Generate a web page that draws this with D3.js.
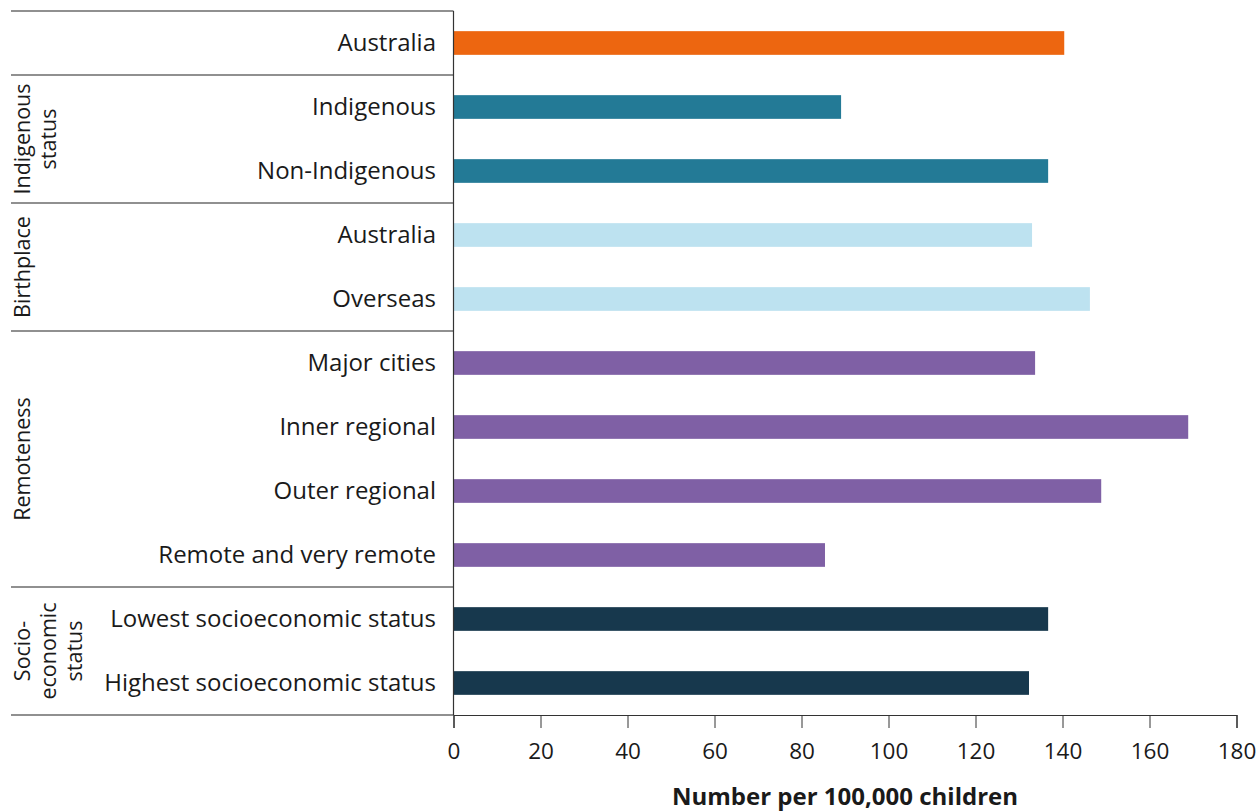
<!DOCTYPE html>
<html><head><meta charset="utf-8">
<script src="https://cdn.jsdelivr.net/npm/d3@7"></script>
<style>body{margin:0;background:#fff;} text{font-family:"Open Sans",sans-serif;}</style>
</head><body><svg id="c" width="1258" height="811"></svg>
<script>
const categories = ["Australia","Indigenous","Non-Indigenous","Australia ","Overseas","Major cities","Inner regional","Outer regional","Remote and very remote","Lowest socioeconomic status","Highest socioeconomic status"];
const values = [140.4, 89.1, 136.7, 133.0, 146.3, 133.7, 168.9, 148.9, 85.4, 136.7, 132.3];
const groupOf = ["total","indig","indig","birth","birth","remote","remote","remote","remote","ses","ses"];
const groups = [
  {key:"total", label:[]},
  {key:"indig", label:["Indigenous","status"]},
  {key:"birth", label:["Birthplace"]},
  {key:"remote", label:["Remoteness"]},
  {key:"ses", label:["Socio-","economic","status"]}
];
const colors = {total:"#ED6610", indig:"#237A96", birth:"#BDE2F0", remote:"#7F60A5", ses:"#17384D"};
const xTicks = [0,20,40,60,80,100,120,140,160,180];

const svg = d3.select("#c");
const x = d3.scaleLinear().domain([0,180]).range([453.5,1236.5]);
const y = d3.scaleBand().domain(categories.map((c,i)=>i)).range([11,715]).paddingInner(0.63).paddingOuter(0.315);

svg.selectAll("rect.bar").data(values).join("rect")
  .attr("class","bar")
  .attr("x", x(0))
  .attr("y",(d,i)=>y(i))
  .attr("width",d=>x(d)-x(0))
  .attr("height",y.bandwidth())
  .attr("fill",(d,i)=>colors[groupOf[i]]);

svg.selectAll("text.cat").data(categories).join("text")
  .attr("class","cat")
  .attr("x",436)
  .attr("y",(d,i)=>y(i)+y.bandwidth()/2)
  .attr("dy","0.35em")
  .attr("text-anchor","end")
  .attr("font-size",24)
  .attr("fill","#1a1a1a")
  .text(d=>d.trim());

let idx = 0;
const bounds = [];
groups.forEach(g=>{
  const n = groupOf.filter(k=>k===g.key).length;
  const top = y(idx) - (y.step()-y.bandwidth())/2;
  const bot = y(idx+n-1) + y.bandwidth() + (y.step()-y.bandwidth())/2;
  bounds.push({g, top, bot});
  idx += n;
});
const lineYs = [bounds[0].top, ...bounds.map(b=>b.bot)];
svg.selectAll("line.sep").data(lineYs).join("line")
  .attr("class","sep")
  .attr("x1",11).attr("x2",453.5)
  .attr("y1",d=>d).attr("y2",d=>d)
  .attr("stroke","#222").attr("stroke-width",1.2);

bounds.forEach(b=>{
  const cy = (b.top+b.bot)/2;
  b.g.label.forEach((t,j)=>{
    const cx = 22 + j*26;
    svg.append("text")
      .attr("transform",`translate(${cx},${cy}) rotate(-90)`)
      .attr("text-anchor","middle")
      .attr("dy","0.35em")
      .attr("font-size",21.5)
      .attr("fill","#1a1a1a")
      .text(t);
  });
});

const ax = svg.append("g").attr("transform","translate(0,715)")
  .call(d3.axisBottom(x).tickValues(xTicks).tickSize(13).tickPadding(15).tickFormat(d3.format("d")));
ax.select(".domain").attr("stroke","#333").attr("stroke-width",1.2);
ax.selectAll(".tick line").attr("stroke","#333");
ax.selectAll(".tick text").attr("font-size",22.5).attr("fill","#1a1a1a").attr("font-family","'Open Sans',sans-serif");

svg.append("line").attr("x1",453.5).attr("x2",453.5).attr("y1",11).attr("y2",715)
  .attr("stroke","#333").attr("stroke-width",1.2);

svg.append("text").attr("x",(x(0)+x(180))/2).attr("y",805)
  .attr("text-anchor","middle").attr("font-size",24).attr("font-weight","bold").attr("fill","#1a1a1a")
  .text("Number per 100,000 children");
</script></body></html>
